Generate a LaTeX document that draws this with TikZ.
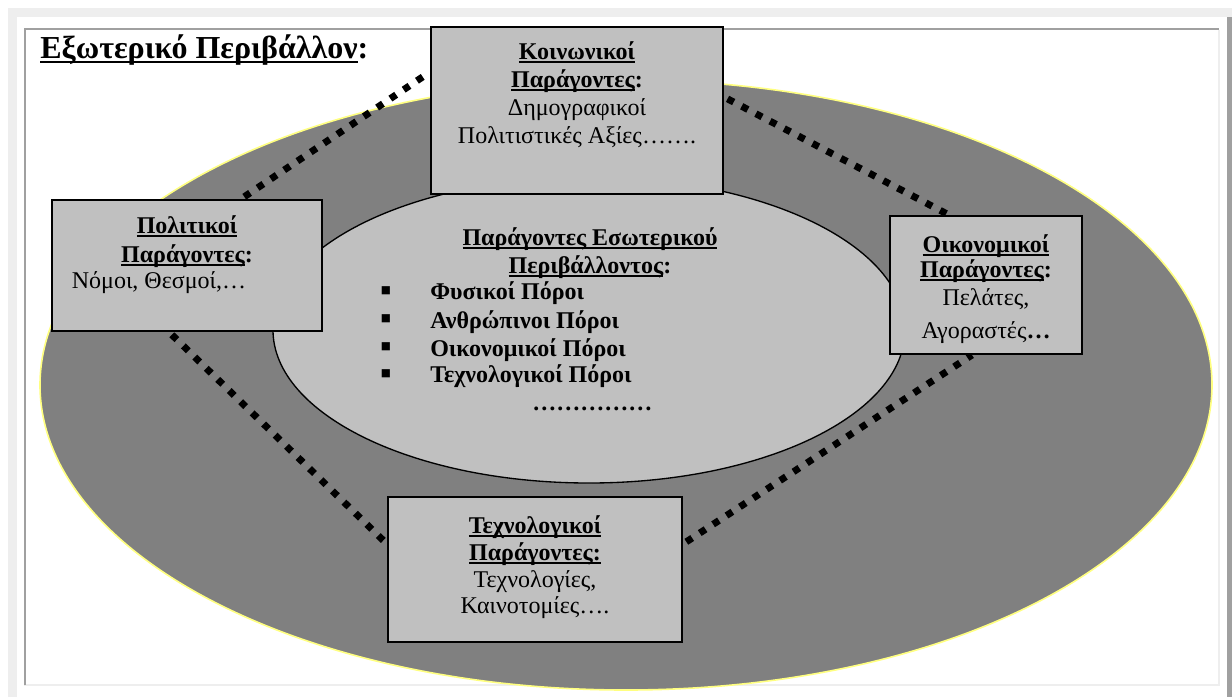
\documentclass[tikz,border=0pt]{standalone}
\usepackage{fontspec}
\setmainfont{Liberation Serif}
\newfontfamily\djv{DejaVu Sans}
\usetikzlibrary{calc}
\pgfdeclarelayer{back}
\pgfdeclarelayer{mid}
\pgfsetlayers{back,mid,main}
\newcommand\myul[1]{\setbox0=\hbox{#1}\rlap{\rule[-0.17em]{\wd0}{0.09em}}\box0}
\definecolor{boxgray}{HTML}{C0C0C0}
\definecolor{ringgray}{HTML}{808080}
\definecolor{framedark}{HTML}{A0A0A0}
\definecolor{framelight}{HTML}{EEEEEE}
\definecolor{rimyellow}{HTML}{FFFF80}
\begin{document}
\begin{tikzpicture}[x=0.75pt,y=-0.75pt,
  factor/.style={draw=black, line width=1.5pt, fill=boxgray, rectangle, inner sep=0pt},
  t/.style={inner sep=0pt, anchor=base, font=\fontsize{18pt}{21pt}\selectfont},
  tb/.style={inner sep=0pt, anchor=base, font=\fontsize{18pt}{21pt}\selectfont\bfseries},
  hd/.style={inner sep=0pt, anchor=base, font=\fontsize{18pt}{21pt}\selectfont\bfseries},
  il/.style={inner sep=0pt, anchor=base west, font=\fontsize{18pt}{21pt}\selectfont\bfseries},
  bl/.style={inner sep=0pt, anchor=center, font=\djv\fontsize{8pt}{9pt}\selectfont},
  link/.style={line width=5.2pt, dash pattern=on 5.2pt off 6.8pt, dash phase=-3pt}]
\useasboundingbox (0,0) rectangle (1232,697);
\begin{pgfonlayer}{back}
  % page frame
  \fill[white] (0,0) rectangle (1232,697);
  \fill[framelight] (8,8) rectangle (1232,697);
  \fill[white] (17,17) rectangle (1227,697);
  \fill[framedark] (1227,17) rectangle (1232,697);
  \draw[framelight, line width=1.5pt] (24,685) -- (1219,685) -- (1219,30);
  \draw[framedark, line width=1.5pt] (25,685) -- (25,29) -- (1219,29);
  % environments
  \filldraw[fill=ringgray, draw=rimyellow, line width=1.2pt] (626,385) ellipse [x radius=439.5pt, y radius=228.75pt];
  \filldraw[fill=boxgray, draw=black, line width=1pt] (589,330) ellipse [x radius=237pt, y radius=114.75pt];
\end{pgfonlayer}

% title
\node[inner sep=0pt, anchor=base west, font=\fontsize{24pt}{28pt}\selectfont\bfseries] (title) at (40,58) {\myul{Εξωτερικό Περιβάλλον}:};

% factor boxes
\node[factor, minimum width=219pt, minimum height=125.25pt] (soc) at (577,110.5) {};
\node[factor, minimum width=202.5pt, minimum height=98.25pt] (pol) at (187,265.5) {};
\node[factor, minimum width=144pt, minimum height=103.5pt] (eco) at (986,285) {};
\node[factor, minimum width=220.5pt, minimum height=108.75pt] (tech) at (535,569.5) {};

% social
\node[tb] (soc1) at (577,59) {\myul{Κοινωνικοί}};
\node[tb] (soc2) at (577,87) {\myul{Παράγοντες}:};
\node[t] (soc3) at (577,115) {Δημογραφικοί};
\node[t] (soc4) at (577,143) {Πολιτιστικές Αξίες…….};

% political
\node[tb] (pol1) at (187,233) {\myul{Πολιτικοί}};
\node[tb] (pol2) at (187,262) {\myul{Παράγοντες}:};
\node[t] (pol3) at (159,288) {Νόμοι, Θεσμοί,…};

% economic
\node[tb] (eco1) at (986,252) {\myul{Οικονομικοί}};
\node[tb] (eco2) at (986,277) {\myul{Παράγοντες}:};
\node[t] (eco3) at (986,305) {Πελάτες,};
\node[t] (eco4) at (986,338) {Αγοραστές\textbf{…}};

% technological
\node[tb] (tech1) at (535,533) {\myul{Τεχνολογικοί}};
\node[tb] (tech2) at (535,560) {\myul{Παράγοντες:}};
\node[t] (tech3) at (535,587) {Τεχνολογίες,};
\node[t] (tech4) at (535,613) {Καινοτομίες….};

% internal environment
\node[hd] (int1) at (590,245) {\myul{Παράγοντες Εσωτερικού}};
\node[hd] (int2) at (590,273) {\myul{Περιβάλλοντος}:};
\node[bl] (b1) at (386,291) {■};
\node[bl] (b2) at (386,319) {■};
\node[bl] (b3) at (386,347) {■};
\node[bl] (b4) at (386,374) {■};
\node[il] (r1) at (430,299) {Φυσικοί Πόροι};
\node[il] (r2) at (430,328) {Ανθρώπινοι Πόροι};
\node[il] (r3) at (430,356) {Οικονομικοί Πόροι};
\node[il] (r4) at (430,382) {Τεχνολογικοί Πόροι};
\node[il] (r5) at (532,410) {……………};

% dotted links
\begin{pgfonlayer}{mid}
  \draw[link] ([xshift=142.5pt]pol.north west) -- ([yshift=-34.5pt]soc.north west);
  \draw[link] ([yshift=-53.25pt]soc.north east) -- ([xshift=45pt]eco.north west);
  \draw[link] ([xshift=88.5pt]pol.south west) -- ([yshift=-36pt]tech.north west);
  \draw[link] ([yshift=-36pt]tech.north east) -- ([xshift=62.25pt]eco.south west);
\end{pgfonlayer}
\end{tikzpicture}
\end{document}
